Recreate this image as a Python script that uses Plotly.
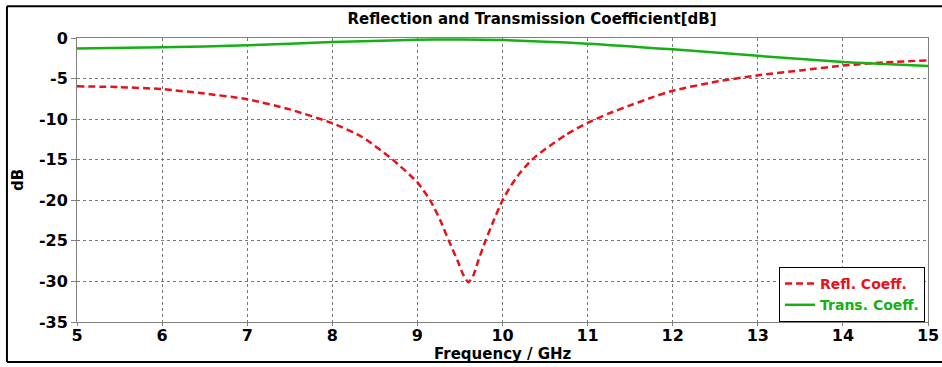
import plotly.graph_objects as go

freq_refl = [5.0, 5.5, 6.0, 6.5, 7.0, 7.5, 8.0, 8.35, 8.7, 9.0, 9.15, 9.27, 9.37, 9.47,
             9.54, 9.6, 9.66, 9.72, 9.8, 9.9, 10.0, 10.1, 10.2, 10.3, 10.4, 10.5, 10.75,
             11.0, 11.25, 11.5, 11.75, 12.0, 12.5, 13.0, 13.5, 14.0, 14.5, 15.0]
refl_db = [-5.95, -6.05, -6.3, -6.85, -7.55, -8.8, -10.5, -12.2, -14.9, -17.8, -20.0,
           -22.5, -25.0, -27.4, -29.2, -30.1, -29.2, -27.3, -25.0, -22.4, -20.0, -18.2,
           -16.7, -15.5, -14.5, -13.7, -11.9, -10.45, -9.3, -8.3, -7.35, -6.5, -5.4,
           -4.6, -4.0, -3.4, -3.0, -2.75]

freq_trans = [5.0, 6.0, 7.0, 8.0, 9.0, 9.5, 10.0, 11.0, 12.0, 13.0, 14.0, 14.5, 15.0]
trans_db = [-1.3, -1.15, -0.9, -0.5, -0.22, -0.18, -0.25, -0.7, -1.4, -2.2, -2.95, -3.2, -3.45]

x_ticks = list(range(5, 16))
y_ticks = list(range(-35, 1, 5))

FONT = "DejaVu Sans"
RED = "#e8121b"
GREEN = "#13b113"

fig = go.Figure()
fig.add_trace(go.Scatter(
    x=freq_refl, y=refl_db, mode="lines",
    name=f"<span style='color:{RED}'>Refl. Coeff.</span>",
    line=dict(color=RED, width=2.5, dash="7px,4px", shape="spline", smoothing=0.6),
))
fig.add_trace(go.Scatter(
    x=freq_trans, y=trans_db, mode="lines",
    name=f"<span style='color:{GREEN}'>Trans. Coeff.</span>",
    line=dict(color=GREEN, width=2.5, shape="spline", smoothing=0.8),
))

axis_common = dict(
    showgrid=True, gridcolor="#777777", griddash="dot", gridwidth=1,
    showline=True, linecolor="#808080", linewidth=1, mirror=True,
    ticks="outside", tickcolor="#808080",
    zeroline=False, automargin=False,
)

fig.update_xaxes(range=[5, 15], tickvals=x_ticks, ticktext=[str(v) for v in x_ticks],
                 ticklen=3, ticklabelstandoff=-4,
                 tickfont=dict(family=FONT, size=16, color="black", weight="bold"),
                 **axis_common)
fig.update_yaxes(range=[-35, 0], tickvals=y_ticks, ticktext=[str(v) for v in y_ticks],
                 ticklen=5, tickfont=dict(family=FONT, size=16, color="black", weight="bold"),
                 **axis_common)

fig.update_layout(
    width=942, height=367,
    margin=dict(l=77, r=14, t=38, b=45, autoexpand=False),
    paper_bgcolor="white", plot_bgcolor="white",
    title=dict(text="Reflection and Transmission Coefficient[dB]", x=532 / 942, xanchor="center",
               y=1 - 19 / 367, yanchor="middle",
               font=dict(family=FONT, size=15, color="black", weight="bold")),
    showlegend=True,
    legend=dict(x=0.9965, y=0.0, xanchor="right", yanchor="bottom",
                bgcolor="white", bordercolor="black", borderwidth=1,
                font=dict(family=FONT, size=14, weight="bold"),
                tracegroupgap=0, itemwidth=30),
    annotations=[
        dict(text="Frequency / GHz", xref="paper", yref="paper", x=0.5, y=-(354 - 322) / 284.3,
             xanchor="center", yanchor="middle", showarrow=False,
             font=dict(family=FONT, size=15, color="black", weight="bold")),
        dict(text="dB", xref="paper", yref="paper", x=-(77 - 18) / 851, y=0.5,
             xanchor="center", yanchor="middle", showarrow=False, textangle=-90,
             font=dict(family=FONT, size=15, color="black", weight="bold")),
    ],
)

# outer frame (top, left, bottom)
frame = dict(type="line", xref="paper", yref="paper", line=dict(color="black", width=2))
fig.add_shape(x0=-0.0823, x1=1.02, y0=1.112, y1=1.112, **frame)
fig.add_shape(x0=-0.0823, x1=-0.0823, y0=1.112, y1=-0.1407, **frame)
fig.add_shape(x0=-0.0823, x1=1.02, y0=-0.1407, y1=-0.1407, **frame)

fig.write_html("out.html")
